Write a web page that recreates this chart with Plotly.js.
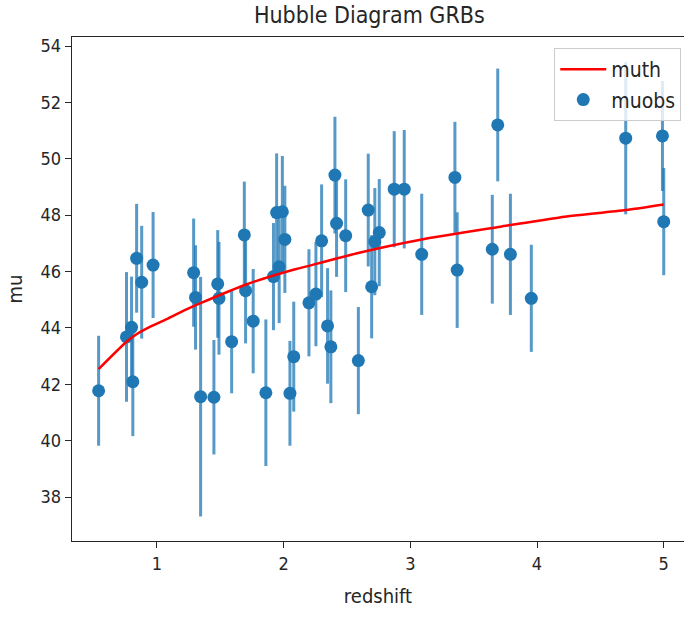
<!DOCTYPE html>
<html>
<head>
<meta charset="utf-8">
<script src="https://cdn.plot.ly/plotly-3.0.1.min.js"></script>
<style>
  html, body { margin: 0; padding: 0; background: #fff; }
  #chart { width: 684px; height: 617px; }
</style>
</head>
<body>
<div id="chart"></div>
<script>
// GRB redshifts, observed distance moduli and 1-sigma errors
const redshift = [0.54, 0.76, 0.80, 0.81, 0.84, 0.88, 0.97, 1.29, 1.305, 1.345,
  1.45, 1.48, 1.49, 1.59, 1.69, 1.70, 1.76, 1.86, 1.92, 1.945,
  1.965, 1.99, 2.01, 2.05, 2.08, 2.20, 2.255, 2.30, 2.347, 2.373,
  2.405, 2.418, 2.49, 2.59, 2.668, 2.695, 2.72, 2.755, 2.873, 2.952,
  3.09, 3.352, 3.37, 3.647, 3.69, 3.79, 3.955, 4.70, 4.99, 5.00];
const muobs = [41.77, 43.68, 44.02, 42.09, 46.47, 45.62, 46.23, 45.96, 45.08, 41.56,
  41.54, 45.56, 45.05, 43.51, 47.30, 45.32, 44.24, 41.70, 45.82, 48.09,
  46.17, 48.12, 47.14, 41.68, 42.98, 44.89, 45.20, 47.09, 44.07, 43.33,
  49.42, 47.71, 47.27, 42.84, 48.18, 45.46, 47.06, 47.38, 48.92, 48.92,
  46.61, 49.34, 46.05, 46.79, 51.20, 46.61, 45.05, 50.73, 50.81, 47.77];
const muerr = [1.95, 2.30, 1.80, 1.93, 1.93, 2.00, 1.88, 1.92, 1.85, 4.25,
  2.03, 1.91, 2.00, 1.83, 1.89, 1.87, 1.85, 2.60, 1.90, 2.10,
  2.00, 1.98, 1.90, 1.86, 1.95, 1.90, 1.85, 2.00, 2.05, 2.00,
  2.07, 1.90, 2.00, 1.90, 2.00, 1.83, 1.90, 1.90, 2.06, 2.10,
  2.15, 1.97, 2.05, 1.93, 2.00, 2.15, 1.90, 2.70, 1.95, 1.90];

// theoretical distance modulus curve
const zth = [0.54, 0.76, 0.83, 0.96, 1.09, 1.22, 1.34, 1.71, 2.05, 2.13,
  2.58, 3.08, 3.71, 4.18, 4.70, 5.00];
const muth = [42.54, 43.51, 43.75, 44.07, 44.34, 44.63, 44.87, 45.55, 46.03, 46.12,
  46.65, 47.13, 47.59, 47.92, 48.18, 48.38];

const xTicks = [1, 2, 3, 4, 5];
const yTicks = [38, 40, 42, 44, 46, 48, 50, 52, 54];

const FONT = "'DejaVu Sans Condensed', 'DejaVu Sans', sans-serif";
const INK = '#262626';

const traces = [
  {
    type: 'scatter',
    mode: 'markers',
    name: 'muobs',
    x: redshift,
    y: muobs,
    marker: { color: '#1f77b4', size: 13 },
    error_y: {
      type: 'data',
      array: muerr,
      visible: true,
      color: 'rgba(31,119,180,0.75)',
      thickness: 3,
      width: 0
    }
  },
  {
    type: 'scatter',
    mode: 'lines',
    name: 'muth',
    x: zth,
    y: muth,
    line: { color: '#ff0000', width: 2.5, shape: 'spline', smoothing: 0.6 }
  }
];

const layout = {
  width: 684,
  height: 617,
  margin: { l: 72, r: 0, t: 37, b: 76 },
  paper_bgcolor: '#ffffff',
  plot_bgcolor: '#ffffff',
  font: { family: FONT, color: INK, size: 18 },
  title: {
    text: 'Hubble Diagram GRBs',
    font: { family: FONT, size: 23, color: INK },
    x: 0.54, xref: 'container', xanchor: 'center',
    y: 0.976, yref: 'container', yanchor: 'middle'
  },
  xaxis: {
    range: [0.33, 5.16],
    tickvals: xTicks,
    ticktext: xTicks.map(String),
    ticks: 'outside', ticklen: 6, tickwidth: 1, tickcolor: INK,
    showline: true, linecolor: INK, linewidth: 1.3, mirror: true,
    showgrid: false, zeroline: false,
    tickfont: { family: FONT, size: 18, color: INK },
    title: { text: 'redshift', font: { family: FONT, size: 20, color: INK }, standoff: 16 }
  },
  yaxis: {
    range: [36.44, 54.32],
    tickvals: yTicks,
    ticktext: yTicks.map(String),
    ticks: 'outside', ticklen: 6, tickwidth: 1, tickcolor: INK,
    showline: true, linecolor: INK, linewidth: 1.3, mirror: false,
    showgrid: false, zeroline: false,
    tickfont: { family: FONT, size: 18, color: INK },
    title: { text: 'mu', font: { family: FONT, size: 20, color: INK }, standoff: 12 }
  },
  showlegend: true,
  legend: {
    x: 0.788, y: 0.978, xanchor: 'left', yanchor: 'top',
    traceorder: 'reversed',
    itemwidth: 46,
    tracegroupgap: 0,
    bgcolor: 'rgba(255,255,255,0.8)',
    bordercolor: '#cccccc', borderwidth: 1,
    font: { family: FONT, size: 21, color: INK }
  }
};

Plotly.newPlot('chart', traces, layout, { displayModeBar: false, staticPlot: true });
</script>
</body>
</html>
